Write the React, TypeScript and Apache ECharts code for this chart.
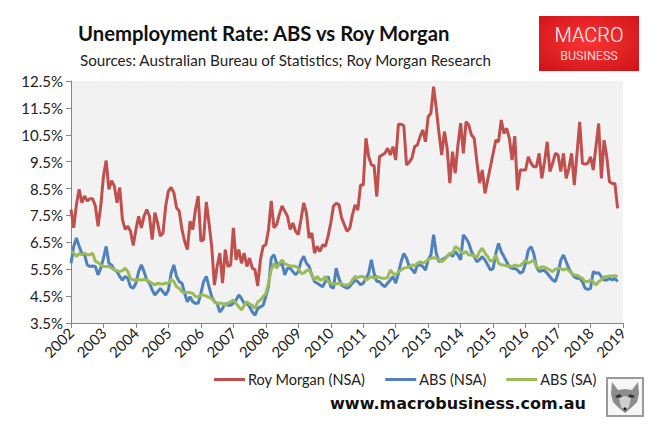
import React, { useEffect, useRef } from "react";
import * as echarts from "echarts";

// Monthly data, January 2002 – November 2018
const START_YEAR = 2002;

const royMorgan = [
  7.72, 7.04, 7.9, 8.47, 7.97, 8.22, 8.04, 8.12, 8.12, 7.85,
  7.1, 7.85, 8.97, 9.54, 8.47, 8.79, 8.6, 7.97, 8.54, 7.35,
  6.98, 7.1, 6.91, 6.38, 6.98, 7.47, 7.04, 7.47, 7.72, 7.47,
  6.6, 7.6, 7.22, 6.73, 6.85, 7.85, 8.41, 8.54, 8.35, 7.79,
  7.66, 6.98, 6.54, 6.23, 7.29, 6.98, 7.72, 8.22, 6.54, 6.6,
  8.0, 7.22, 6.35, 4.91, 5.6, 6.1, 4.98, 6.23, 5.6, 5.66,
  7.04, 5.85, 6.23, 5.72, 6.1, 5.6, 5.91, 5.54, 5.48, 4.88,
  5.85, 6.35, 6.41, 6.98, 8.04, 7.04, 7.16, 7.54, 7.85, 7.66,
  7.47, 6.98, 7.22, 6.91, 6.79, 7.35, 7.97, 7.6, 6.66, 6.85,
  6.1, 6.35, 6.16, 6.41, 6.35, 6.73, 7.22, 7.85, 7.95, 7.91,
  7.41, 7.16, 6.91, 7.02, 7.52, 7.89, 7.7, 8.63, 8.63, 10.37,
  9.69, 9.38, 9.35, 8.2, 9.69, 9.75, 9.81, 10.0, 9.75, 10.06,
  9.56, 10.89, 10.89, 10.84, 9.38, 9.48, 9.63, 10.06, 10.12, 10.43,
  10.68, 10.24, 11.17, 11.3, 12.29, 11.48, 10.55, 9.75, 10.62, 10.0,
  8.7, 9.87, 9.07, 10.12, 10.93, 9.81, 10.99, 10.86, 10.49, 10.37,
  9.5, 8.7, 9.19, 8.32, 8.82, 9.31, 9.81, 10.3, 10.24, 11.05,
  10.55, 10.74, 10.37, 9.56, 10.45, 8.44, 9.19, 9.19, 9.19, 9.68,
  9.44, 9.31, 9.31, 9.81, 8.88, 9.5, 10.24, 9.13, 9.44, 9.81,
  9.75, 9.13, 9.81, 8.88, 9.25, 9.81, 8.63, 9.81, 10.98, 9.44,
  9.41, 9.44, 9.68, 9.19, 10.06, 10.92, 8.88, 10.3, 9.68, 8.75,
  8.69, 8.69, 7.76,
];

const absNsa = [
  5.72, 6.35, 6.66, 6.35, 6.1, 6.04, 5.66, 5.6, 5.62, 5.6,
  5.29, 5.54, 5.91, 6.35, 5.72, 5.66, 5.48, 5.41, 5.23, 5.1,
  5.23, 5.16, 4.85, 4.79, 4.98, 5.41, 5.66, 5.41, 5.1, 4.98,
  4.73, 4.54, 4.66, 4.79, 4.66, 4.54, 4.73, 5.35, 5.66, 5.23,
  5.04, 4.98, 4.6, 4.29, 4.48, 4.29, 4.23, 4.23, 4.6, 5.04,
  5.23, 4.85, 4.48, 4.29, 4.23, 3.91, 4.04, 4.23, 4.16, 4.16,
  4.23, 4.35, 4.54, 4.41, 4.23, 4.23, 4.1, 3.91, 3.79, 4.04,
  4.1, 4.16, 4.48, 4.85, 5.91, 6.04, 5.72, 5.66, 5.72, 5.29,
  5.54, 5.54, 5.41, 5.29, 5.41, 5.79, 5.98, 5.72, 5.6, 5.29,
  5.04, 4.98, 4.91, 4.85, 5.04, 5.23, 4.85, 4.79, 5.54, 5.16,
  4.91, 4.85, 4.79, 4.85, 4.98, 5.1, 5.04, 4.92, 4.98, 5.16,
  5.35, 5.85, 5.35, 5.04, 5.04, 4.92, 4.85, 4.98, 5.1, 5.23,
  4.98, 5.35, 5.78, 6.09, 5.91, 5.6, 5.5, 5.35, 5.66, 5.66,
  5.6, 5.47, 5.85, 6.03, 6.78, 6.09, 5.78, 5.85, 5.91, 5.97,
  6.09, 5.97, 6.16, 6.03, 5.85, 6.78, 6.65, 6.47, 6.16, 5.97,
  5.78, 5.85, 5.97, 5.84, 5.66, 5.47, 5.53, 6.09, 6.46, 6.15,
  5.97, 5.78, 5.59, 5.53, 5.53, 5.47, 5.35, 5.41, 5.72, 6.21,
  6.34, 6.09, 5.59, 5.41, 5.45, 5.45, 5.35, 5.22, 5.1, 5.04,
  5.35, 5.84, 6.03, 5.78, 5.53, 5.35, 5.22, 5.16, 5.16, 5.04,
  4.79, 4.75, 4.79, 5.41, 5.35, 5.37, 5.22, 5.1, 5.1, 5.16,
  5.1, 5.16, 5.04,
];

const absSa = [
  6.16, 6.1, 5.98, 6.08, 6.04, 6.1, 6.04, 6.04, 6.1, 5.79,
  5.75, 5.66, 5.6, 5.6, 5.6, 5.54, 5.48, 5.45, 5.41, 5.45,
  5.54, 5.41, 5.16, 5.1, 5.1, 5.12, 5.1, 5.12, 5.1, 5.04,
  4.98, 4.91, 4.98, 4.95, 4.95, 4.98, 4.98, 5.12, 5.04, 4.85,
  4.79, 4.66, 4.63, 4.63, 4.63, 4.6, 4.48, 4.48, 4.54, 4.54,
  4.5, 4.45, 4.41, 4.29, 4.23, 4.23, 4.23, 4.16, 4.23, 4.29,
  4.35, 4.23, 4.1, 3.98, 4.16, 4.29, 4.2, 4.16, 4.04, 4.29,
  4.35, 4.48, 4.6, 4.98, 5.48, 5.72, 5.54, 5.72, 5.85, 5.7,
  5.66, 5.62, 5.62, 5.6, 5.54, 5.35, 5.35, 5.45, 5.48, 5.29,
  5.1, 5.23, 5.1, 5.12, 5.23, 5.04, 4.98, 4.95, 4.95, 4.98,
  4.95, 4.91, 4.91, 4.95, 5.1, 5.23, 5.19, 5.23, 5.23, 5.1,
  5.16, 5.23, 5.16, 5.23, 5.19, 5.16, 5.16, 5.19, 5.47, 5.35,
  5.29, 5.41, 5.47, 5.54, 5.56, 5.6, 5.66, 5.64, 5.72, 5.78,
  5.72, 5.78, 5.85, 5.91, 5.93, 5.91, 5.85, 5.78, 5.85, 5.97,
  6.09, 6.09, 6.34, 6.28, 6.16, 6.09, 6.16, 6.03, 6.03, 6.0,
  5.93, 6.16, 6.28, 6.1, 5.97, 5.8, 5.84, 6.03, 5.72, 5.66,
  5.66, 5.62, 5.63, 5.59, 5.66, 5.62, 5.63, 5.72, 5.84, 5.72,
  5.78, 5.84, 5.59, 5.53, 5.59, 5.57, 5.53, 5.47, 5.41, 5.5,
  5.53, 5.53, 5.47, 5.53, 5.45, 5.35, 5.28, 5.28, 5.22, 5.16,
  5.04, 5.04, 5.1, 5.04, 4.91, 5.04, 5.1, 5.22, 5.22, 5.25,
  5.25, 5.26, 5.22,
];

const seriesNames = ["Roy Morgan (NSA)", "ABS (NSA)", "ABS (SA)"];
const seriesColors = ["#C0504D", "#4F81BD", "#9BBB59"];

const TITLE = "Unemployment Rate: ABS vs Roy Morgan";
const SUBTITLE = "Sources: Australian Bureau of Statistics; Roy Morgan Research";
const WEBSITE = "www.macrobusiness.com.au";

export default function App() {
  const ref = useRef<HTMLDivElement>(null);

  useEffect(() => {
    if (!ref.current) return;
    const chart = echarts.init(ref.current, null, { renderer: "svg" });
    const toPoints = (arr: number[]) =>
      arr.map((v, i) => [START_YEAR + i / 12, v]);
    const allData = [royMorgan, absNsa, absSa];

    const axisColor = "#868686";
    const labelFont = "Lato";

    chart.setOption({
      animation: false,
      backgroundColor: "#ffffff",
      grid: {
        left: 71,
        right: 37,
        top: 81,
        bottom: 113,
        show: true,
        backgroundColor: "#f2f2f2",
        borderWidth: 0,
      },
      xAxis: {
        type: "value",
        min: 2002,
        max: 2019,
        interval: 1,
        axisLine: { show: true, lineStyle: { color: axisColor, width: 1 } },
        axisTick: { show: true, length: 5, lineStyle: { color: axisColor } },
        splitLine: { show: false },
        axisLabel: {
          rotate: 45,
          margin: 7,
          fontSize: 15,
          fontFamily: labelFont,
          color: "#222",
          formatter: (v: number) => String(v),
        },
      },
      yAxis: {
        type: "value",
        min: 3.5,
        max: 12.5,
        interval: 1,
        axisLine: { show: true, lineStyle: { color: axisColor, width: 1 } },
        axisTick: { show: true, length: 5, lineStyle: { color: axisColor } },
        splitLine: { show: false },
        axisLabel: {
          margin: 8,
          fontSize: 15,
          fontFamily: labelFont,
          color: "#222",
          formatter: (v: number) => v.toFixed(1) + "%",
        },
      },
      legend: {
        show: true,
        left: 209,
        top: 367,
        icon: "rect",
        itemWidth: 31,
        itemHeight: 3,
        itemGap: 20,
        data: seriesNames,
        textStyle: {
          fontSize: 14.5,
          fontFamily: labelFont,
          color: "#222",
          padding: [0, 0, 0, -2],
        },
      },
      series: seriesNames.map((name, k) => ({
        name,
        type: "line",
        data: toPoints(allData[k]),
        symbol: "none",
        showSymbol: false,
        z: 2 + k,
        lineStyle: { color: seriesColors[k], width: 3 },
        itemStyle: { color: seriesColors[k] },
      })),
      graphic: [
        {
          type: "text",
          style: {
            text: TITLE,
            x: 78,
            y: 33,
            textVerticalAlign: "middle",
            fontSize: 20.3,
            fontWeight: "bold",
            fontFamily: labelFont,
            fill: "#111",
          },
        },
        {
          type: "text",
          style: {
            text: SUBTITLE,
            x: 80,
            y: 60,
            textVerticalAlign: "middle",
            fontSize: 15.2,
            fontFamily: labelFont,
            fill: "#222",
          },
        },
        {
          type: "rect",
          shape: { x: 539, y: 16, width: 100, height: 55 },
          style: {
            fill: new echarts.graphic.RadialGradient(0.5, 0.45, 0.75, [
              { offset: 0, color: "#fb3434" },
              { offset: 1, color: "#cc1216" },
            ]),
          },
        },
        {
          type: "text",
          style: {
            text: "MACRO",
            x: 589,
            y: 35,
            textAlign: "center",
            textVerticalAlign: "middle",
            fontSize: 20,
            fontWeight: 300,
            fontFamily: "Roboto",
            fill: "#ffffff",
          },
        },
        {
          type: "text",
          style: {
            text: "BUSINESS",
            x: 589,
            y: 55,
            textAlign: "center",
            textVerticalAlign: "middle",
            fontSize: 12.5,
            fontFamily: "Roboto",
            fill: "#ffd9d9",
          },
        },
        {
          type: "text",
          style: {
            text: WEBSITE,
            x: 458,
            y: 403,
            textAlign: "center",
            textVerticalAlign: "middle",
            fontSize: 16,
            fontWeight: "bold",
            fontFamily: "DejaVu Sans",
            fill: "#111",
          },
        },
        {
          type: "rect",
          shape: { x: 607, y: 378, width: 36, height: 38 },
          style: { fill: "#f6f6f6", stroke: "#9a9a9a", lineWidth: 2 },
        },
        {
          type: "polygon",
          shape: {
            points: [
              [612, 382], [618, 390], [625, 389], [632, 390], [638, 382],
              [639, 394], [637, 402], [631, 408], [625, 413], [619, 408],
              [613, 402], [611, 394],
            ],
          },
          style: { fill: "#8c8c8c" },
        },
        {
          type: "polygon",
          shape: {
            points: [[619, 398], [625, 396], [631, 398], [629, 407], [625, 411], [621, 407]],
          },
          style: { fill: "#cfcfcf" },
        },
        {
          type: "polygon",
          shape: { points: [[615, 396], [620, 394], [622, 397], [617, 398]] },
          style: { fill: "#333" },
        },
        {
          type: "polygon",
          shape: { points: [[635, 396], [630, 394], [628, 397], [633, 398]] },
          style: { fill: "#333" },
        },
        {
          type: "circle",
          shape: { cx: 625, cy: 409, r: 1.6 },
          style: { fill: "#222" },
        },
      ],
    });

    return () => chart.dispose();
  }, []);

  return (
    <div
      ref={ref}
      style={{
        position: "fixed",
        left: 0,
        top: 0,
        width: 660,
        height: 436,
        background: "#ffffff",
      }}
    />
  );
}
